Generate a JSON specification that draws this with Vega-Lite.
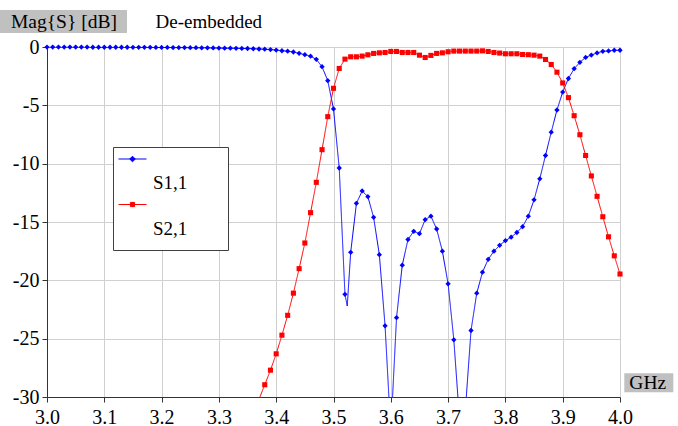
{
  "$schema": "https://vega.github.io/schema/vega-lite/v6.json",
  "width": 573,
  "height": 350,
  "autosize": {"type": "none"},
  "padding": {"left": 47, "top": 47, "right": 58, "bottom": 29},
  "background": "white",
  "config": {
    "view": {"stroke": null},
    "font": "Liberation Serif"
  },
  "datasets": {
    "sp": [
      {"f": 3.00, "s": "S1,1", "db": -0.01}, {"f": 3.01, "s": "S1,1", "db": -0.01}, {"f": 3.02, "s": "S1,1", "db": -0.01},
      {"f": 3.03, "s": "S1,1", "db": -0.01}, {"f": 3.04, "s": "S1,1", "db": -0.01}, {"f": 3.05, "s": "S1,1", "db": -0.01},
      {"f": 3.06, "s": "S1,1", "db": -0.01}, {"f": 3.07, "s": "S1,1", "db": -0.01}, {"f": 3.08, "s": "S1,1", "db": -0.02},
      {"f": 3.09, "s": "S1,1", "db": -0.02}, {"f": 3.10, "s": "S1,1", "db": -0.02}, {"f": 3.11, "s": "S1,1", "db": -0.02},
      {"f": 3.12, "s": "S1,1", "db": -0.02}, {"f": 3.13, "s": "S1,1", "db": -0.02}, {"f": 3.14, "s": "S1,1", "db": -0.02},
      {"f": 3.15, "s": "S1,1", "db": -0.03}, {"f": 3.16, "s": "S1,1", "db": -0.03}, {"f": 3.17, "s": "S1,1", "db": -0.03},
      {"f": 3.18, "s": "S1,1", "db": -0.03}, {"f": 3.19, "s": "S1,1", "db": -0.04}, {"f": 3.20, "s": "S1,1", "db": -0.04},
      {"f": 3.21, "s": "S1,1", "db": -0.04}, {"f": 3.22, "s": "S1,1", "db": -0.05}, {"f": 3.23, "s": "S1,1", "db": -0.05},
      {"f": 3.24, "s": "S1,1", "db": -0.05}, {"f": 3.25, "s": "S1,1", "db": -0.06}, {"f": 3.26, "s": "S1,1", "db": -0.06},
      {"f": 3.27, "s": "S1,1", "db": -0.07}, {"f": 3.28, "s": "S1,1", "db": -0.07}, {"f": 3.29, "s": "S1,1", "db": -0.08},
      {"f": 3.30, "s": "S1,1", "db": -0.09}, {"f": 3.31, "s": "S1,1", "db": -0.10}, {"f": 3.32, "s": "S1,1", "db": -0.10},
      {"f": 3.33, "s": "S1,1", "db": -0.11}, {"f": 3.34, "s": "S1,1", "db": -0.12}, {"f": 3.35, "s": "S1,1", "db": -0.13},
      {"f": 3.36, "s": "S1,1", "db": -0.15}, {"f": 3.37, "s": "S1,1", "db": -0.17}, {"f": 3.38, "s": "S1,1", "db": -0.19},
      {"f": 3.39, "s": "S1,1", "db": -0.22}, {"f": 3.40, "s": "S1,1", "db": -0.26}, {"f": 3.41, "s": "S1,1", "db": -0.32},
      {"f": 3.42, "s": "S1,1", "db": -0.36}, {"f": 3.43, "s": "S1,1", "db": -0.43}, {"f": 3.44, "s": "S1,1", "db": -0.54},
      {"f": 3.45, "s": "S1,1", "db": -0.66}, {"f": 3.46, "s": "S1,1", "db": -0.79}, {"f": 3.47, "s": "S1,1", "db": -1.06},
      {"f": 3.48, "s": "S1,1", "db": -1.69}, {"f": 3.49, "s": "S1,1", "db": -2.89}, {"f": 3.50, "s": "S1,1", "db": -5.31},
      {"f": 3.51, "s": "S1,1", "db": -10.37}, {"f": 3.52, "s": "S1,1", "db": -21.2}, {"f": 3.524, "s": "S1,1", "db": -22.2},
      {"f": 3.53, "s": "S1,1", "db": -17.6}, {"f": 3.54, "s": "S1,1", "db": -13.4}, {"f": 3.55, "s": "S1,1", "db": -12.34},
      {"f": 3.56, "s": "S1,1", "db": -12.83}, {"f": 3.57, "s": "S1,1", "db": -14.6}, {"f": 3.58, "s": "S1,1", "db": -17.8},
      {"f": 3.59, "s": "S1,1", "db": -23.9}, {"f": 3.60, "s": "S1,1", "db": -33.0}, {"f": 3.61, "s": "S1,1", "db": -23.2},
      {"f": 3.62, "s": "S1,1", "db": -18.7}, {"f": 3.63, "s": "S1,1", "db": -16.5}, {"f": 3.64, "s": "S1,1", "db": -15.8},
      {"f": 3.65, "s": "S1,1", "db": -16.0}, {"f": 3.66, "s": "S1,1", "db": -14.8}, {"f": 3.67, "s": "S1,1", "db": -14.5},
      {"f": 3.68, "s": "S1,1", "db": -15.6}, {"f": 3.69, "s": "S1,1", "db": -17.5}, {"f": 3.70, "s": "S1,1", "db": -20.3},
      {"f": 3.71, "s": "S1,1", "db": -25.1}, {"f": 3.72, "s": "S1,1", "db": -32.0}, {"f": 3.73, "s": "S1,1", "db": -31.2},
      {"f": 3.74, "s": "S1,1", "db": -24.3}, {"f": 3.75, "s": "S1,1", "db": -21.1}, {"f": 3.76, "s": "S1,1", "db": -19.3},
      {"f": 3.77, "s": "S1,1", "db": -18.2}, {"f": 3.78, "s": "S1,1", "db": -17.5}, {"f": 3.79, "s": "S1,1", "db": -17.0},
      {"f": 3.80, "s": "S1,1", "db": -16.6}, {"f": 3.81, "s": "S1,1", "db": -16.3}, {"f": 3.82, "s": "S1,1", "db": -15.9},
      {"f": 3.83, "s": "S1,1", "db": -15.4}, {"f": 3.84, "s": "S1,1", "db": -14.5}, {"f": 3.85, "s": "S1,1", "db": -13.1},
      {"f": 3.86, "s": "S1,1", "db": -11.3}, {"f": 3.87, "s": "S1,1", "db": -9.3}, {"f": 3.88, "s": "S1,1", "db": -7.3},
      {"f": 3.89, "s": "S1,1", "db": -5.4}, {"f": 3.90, "s": "S1,1", "db": -3.86}, {"f": 3.91, "s": "S1,1", "db": -2.7},
      {"f": 3.92, "s": "S1,1", "db": -1.86}, {"f": 3.93, "s": "S1,1", "db": -1.31}, {"f": 3.94, "s": "S1,1", "db": -0.89},
      {"f": 3.95, "s": "S1,1", "db": -0.69}, {"f": 3.96, "s": "S1,1", "db": -0.51}, {"f": 3.97, "s": "S1,1", "db": -0.37},
      {"f": 3.98, "s": "S1,1", "db": -0.34}, {"f": 3.99, "s": "S1,1", "db": -0.28}, {"f": 4.00, "s": "S1,1", "db": -0.28},

      {"f": 3.35, "s": "S2,1", "db": -32.6}, {"f": 3.36, "s": "S2,1", "db": -31.4}, {"f": 3.37, "s": "S2,1", "db": -30.2},
      {"f": 3.38, "s": "S2,1", "db": -28.95}, {"f": 3.39, "s": "S2,1", "db": -27.7}, {"f": 3.40, "s": "S2,1", "db": -26.3},
      {"f": 3.41, "s": "S2,1", "db": -24.7}, {"f": 3.42, "s": "S2,1", "db": -23.0}, {"f": 3.43, "s": "S2,1", "db": -21.1},
      {"f": 3.44, "s": "S2,1", "db": -19.0}, {"f": 3.45, "s": "S2,1", "db": -16.8}, {"f": 3.46, "s": "S2,1", "db": -14.2},
      {"f": 3.47, "s": "S2,1", "db": -11.6}, {"f": 3.48, "s": "S2,1", "db": -8.8}, {"f": 3.49, "s": "S2,1", "db": -5.97},
      {"f": 3.50, "s": "S2,1", "db": -3.54}, {"f": 3.51, "s": "S2,1", "db": -1.84}, {"f": 3.52, "s": "S2,1", "db": -1.04},
      {"f": 3.53, "s": "S2,1", "db": -0.84}, {"f": 3.54, "s": "S2,1", "db": -0.84}, {"f": 3.55, "s": "S2,1", "db": -0.78},
      {"f": 3.56, "s": "S2,1", "db": -0.67}, {"f": 3.57, "s": "S2,1", "db": -0.55}, {"f": 3.58, "s": "S2,1", "db": -0.50},
      {"f": 3.59, "s": "S2,1", "db": -0.47}, {"f": 3.60, "s": "S2,1", "db": -0.38}, {"f": 3.61, "s": "S2,1", "db": -0.38},
      {"f": 3.62, "s": "S2,1", "db": -0.47}, {"f": 3.63, "s": "S2,1", "db": -0.47}, {"f": 3.64, "s": "S2,1", "db": -0.47},
      {"f": 3.65, "s": "S2,1", "db": -0.70}, {"f": 3.66, "s": "S2,1", "db": -0.90}, {"f": 3.67, "s": "S2,1", "db": -0.72},
      {"f": 3.68, "s": "S2,1", "db": -0.55}, {"f": 3.69, "s": "S2,1", "db": -0.50}, {"f": 3.70, "s": "S2,1", "db": -0.41},
      {"f": 3.71, "s": "S2,1", "db": -0.35}, {"f": 3.72, "s": "S2,1", "db": -0.35}, {"f": 3.73, "s": "S2,1", "db": -0.35},
      {"f": 3.74, "s": "S2,1", "db": -0.35}, {"f": 3.75, "s": "S2,1", "db": -0.35}, {"f": 3.76, "s": "S2,1", "db": -0.33},
      {"f": 3.77, "s": "S2,1", "db": -0.38}, {"f": 3.78, "s": "S2,1", "db": -0.47}, {"f": 3.79, "s": "S2,1", "db": -0.52},
      {"f": 3.80, "s": "S2,1", "db": -0.58}, {"f": 3.81, "s": "S2,1", "db": -0.58}, {"f": 3.82, "s": "S2,1", "db": -0.58},
      {"f": 3.83, "s": "S2,1", "db": -0.64}, {"f": 3.84, "s": "S2,1", "db": -0.66}, {"f": 3.85, "s": "S2,1", "db": -0.70},
      {"f": 3.86, "s": "S2,1", "db": -0.78}, {"f": 3.87, "s": "S2,1", "db": -1.07}, {"f": 3.88, "s": "S2,1", "db": -1.50},
      {"f": 3.89, "s": "S2,1", "db": -2.16}, {"f": 3.90, "s": "S2,1", "db": -3.08}, {"f": 3.91, "s": "S2,1", "db": -4.34},
      {"f": 3.92, "s": "S2,1", "db": -5.89}, {"f": 3.93, "s": "S2,1", "db": -7.52}, {"f": 3.94, "s": "S2,1", "db": -9.30},
      {"f": 3.95, "s": "S2,1", "db": -11.05}, {"f": 3.96, "s": "S2,1", "db": -12.80}, {"f": 3.97, "s": "S2,1", "db": -14.55},
      {"f": 3.98, "s": "S2,1", "db": -16.27}, {"f": 3.99, "s": "S2,1", "db": -17.90}, {"f": 4.00, "s": "S2,1", "db": -19.46}
    ]
  },
  "data": {"name": "sp"},
  "encoding": {
    "x": {
      "field": "f", "type": "quantitative",
      "scale": {"domain": [3, 4], "nice": false, "zero": false},
      "axis": {
        "title": null,
        "values": [3.0, 3.1, 3.2, 3.3, 3.4, 3.5, 3.6, 3.7, 3.8, 3.9, 4.0],
        "format": ".1f",
        "labelFlush": false, "labelOverlap": false,
        "labelFont": "Liberation Serif", "labelFontSize": 20, "labelColor": "black",
        "labelPadding": 5, "tickSize": 5, "tickColor": "#333333", "domainColor": "#333333",
        "grid": true, "gridColor": "#d0d0d0", "gridWidth": 1
      }
    },
    "y": {
      "field": "db", "type": "quantitative",
      "scale": {"domain": [-30, 0], "nice": false, "zero": false},
      "axis": {
        "title": "De-embedded",
        "titleAngle": 0, "titleX": 108, "titleY": -19.5,
        "titleAlign": "left", "titleBaseline": "alphabetic",
        "titleFont": "Liberation Serif", "titleFontSize": 19, "titleFontWeight": "normal", "titleColor": "black",
        "values": [-30, -25, -20, -15, -10, -5, 0],
        "labelExpr": "toString(datum.value)",
        "labelFont": "Liberation Serif", "labelFontSize": 20, "labelColor": "black",
        "labelPadding": 3, "tickSize": 5, "tickColor": "#333333", "domainColor": "#333333",
        "grid": true, "gridColor": "#d0d0d0", "gridWidth": 1
      }
    },
    "color": {
      "field": "s", "type": "nominal",
      "scale": {"domain": ["S1,1", "S2,1"], "range": ["#0000ff", "#ff0000"]},
      "legend": {
        "orient": "none", "legendX": 66, "legendY": 100,
        "title": null,
        "fillColor": "white", "strokeColor": "#404040", "padding": 5,
        "labelFont": "Liberation Serif", "labelFontSize": 19, "labelColor": "black",
        "labelOffset": 6, "symbolSize": 784, "rowPadding": 4.5,
        "symbolType": "M-1,0H1M-0.15,-0.15H0.15V0.15H-0.15Z",
        "symbolStrokeWidth": 1,
        "encode": {
          "symbols": {
            "update": {
              "shape": {"signal": "datum.value == 'S1,1' ? 'M6.3,0M-1,0H1M0,-0.2L0.2,0L0,0.2L-0.2,0Z' : 'M6.3,0M0,2.7M-1,0H1M-0.15,-0.15H0.15V0.15H-0.15Z'"},
              "size": {"value": 784},
              "y": {"value": 7},
              "fill": {"scale": "color", "field": "value"},
              "stroke": {"scale": "color", "field": "value"},
              "strokeWidth": {"value": 1},
              "opacity": {"value": 1}
            }
          },
          "labels": {"update": {"y": {"value": 31}}}
        }
      }
    }
  },
  "layer": [
    {
      "mark": {"type": "line", "clip": true, "strokeWidth": 1},
      "encoding": {
        "strokeDash": {
          "datum": "Mag{S} [dB]",
          "scale": {"range": [[1, 0]]},
          "legend": {
            "orient": "none", "legendX": -47, "legendY": -37,
            "title": null, "fillColor": "#c0c0c0", "strokeColor": null, "padding": 0,
            "labelFont": "Liberation Serif", "labelFontSize": 19.5, "labelColor": "black",
            "encode": {
              "symbols": {"update": {"size": {"value": 4}, "x": {"value": 0}, "y": {"value": 0}, "shape": {"value": "M0,0M127,22.7"}, "opacity": {"value": 0}}},
              "labels": {"update": {"x": {"value": 11}, "y": {"value": 11.6}, "baseline": {"value": "middle"}, "align": {"value": "left"}}}
            }
          }
        },
        "strokeWidth": {
          "datum": "GHz", "type": "nominal",
          "scale": {"type": "point", "range": [1, 1]},
          "legend": {
            "orient": "none", "legendX": 577.3, "legendY": 326.3,
            "title": null, "fillColor": "#c0c0c0", "strokeColor": null, "padding": 0,
            "labelFont": "Liberation Serif", "labelFontSize": 19.5, "labelColor": "black",
            "encode": {
              "symbols": {"update": {"size": {"value": 4}, "x": {"value": 0}, "y": {"value": 0}, "shape": {"value": "M0,0M49,18.4"}, "opacity": {"value": 0}}},
              "labels": {"update": {"x": {"value": 5}, "y": {"value": 9.4}, "baseline": {"value": "middle"}, "align": {"value": "left"}}}
            }
          }
        }
      }
    },
    {
      "transform": [
        {"filter": "datum.s == 'S1,1' && datum.db >= -30 && abs(datum.f * 1000 - round(datum.f * 100) * 10) < 0.5"}
      ],
      "mark": {"type": "point", "filled": true, "size": 28, "opacity": 1, "shape": "diamond"}
    },
    {
      "transform": [
        {"filter": "datum.s == 'S2,1' && datum.db >= -30 && abs(datum.f * 1000 - round(datum.f * 100) * 10) < 0.5"}
      ],
      "mark": {"type": "point", "filled": true, "size": 26, "opacity": 1, "shape": "square"}
    }
  ]
}
